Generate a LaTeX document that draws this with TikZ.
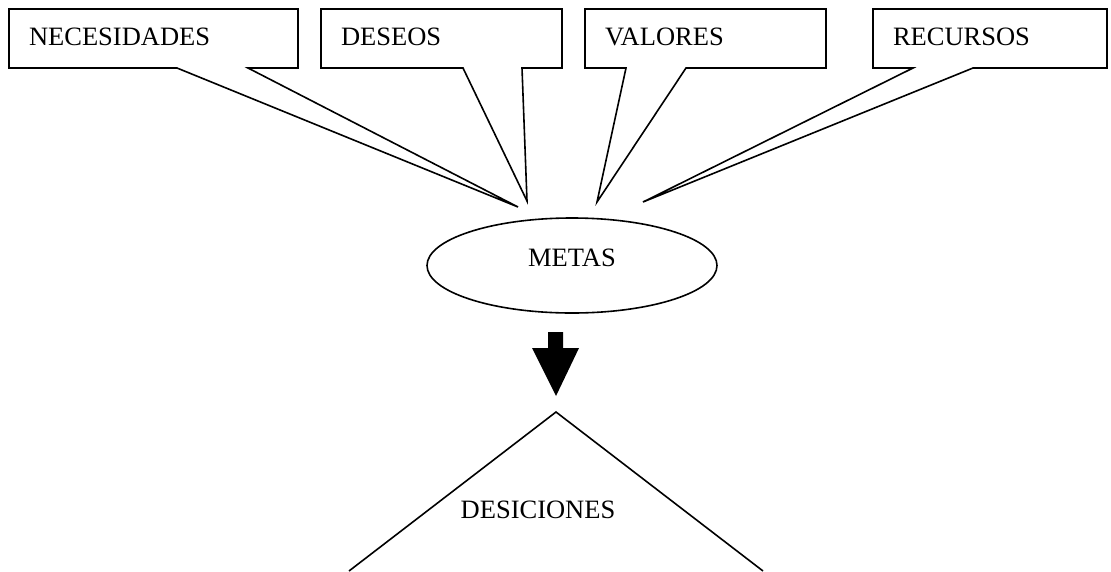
\documentclass[tikz,border=0pt]{standalone}
\usepackage{fontspec}
\setmainfont{Liberation Serif}
\usepackage{tikz}
\usetikzlibrary{calc,shapes.geometric}
\newcommand{\linecolor}{black}
\newcommand{\edgewidth}{1.6pt}
\newcommand{\boxh}{59pt}
\newcommand{\padx}{20pt}

\begin{document}
\begin{tikzpicture}[x=1pt,y=-1pt,line width=\edgewidth,font=\fontsize{26.5}{31}\selectfont,
  cbox/.style={rectangle,anchor=north west,inner xsep=\padx,inner ysep=0pt,outer sep=0pt,
    minimum height=\boxh,align=left,text depth=4pt}]
\useasboundingbox (0,0) rectangle (1111,571);
\node[cbox,text width=249pt] (1) at (9,9) {NECESIDADES};
\node[cbox,text width=201pt] (2) at (321,9) {DESEOS};
\node[cbox,text width=201pt] (3) at (585,9) {VALORES};
\node[cbox,text width=194pt] (4) at (873,9) {RECURSOS};
\coordinate (t1) at (518,207);
\coordinate (t2) at (527,201);
\coordinate (t3) at (597,202);
\coordinate (t4) at (643,202);
%callouts
\draw[\linecolor] (1.north west) -- (1.north east) -- (1.south east) -- ($(1.south west)+(239,0)$) -- (t1) -- ($(1.south west)+(168,0)$) -- (1.south west) -- cycle;
\draw[\linecolor] (2.north west) -- (2.north east) -- (2.south east) -- ($(2.south west)+(201,0)$) -- (t2) -- ($(2.south west)+(142,0)$) -- (2.south west) -- cycle;
\draw[\linecolor] (3.north west) -- (3.north east) -- (3.south east) -- ($(3.south west)+(101,0)$) -- (t3) -- ($(3.south west)+(41,0)$) -- (3.south west) -- cycle;
\draw[\linecolor] (4.north west) -- (4.north east) -- (4.south east) -- ($(4.south west)+(100,0)$) -- (t4) -- ($(4.south west)+(40,0)$) -- (4.south west) -- cycle;
%metas
\node[ellipse,draw=\linecolor,minimum width=290pt,minimum height=95pt,inner sep=0pt,text depth=16pt] (5) at (572,265.5) {METAS};
%arrow
\fill[\linecolor] (548,332) -- (563,332) -- (563,348) -- (579,348) -- (556,396) -- (532,348) -- (548,348) -- cycle;
%desiciones
\coordinate (7) at (556,412);
\coordinate (7l) at (349,571);
\coordinate (7r) at (763,571);
\draw[\linecolor] (7l) -- (7) -- (7r);
\node (6) at (538,509.5) {DESICIONES};
\end{tikzpicture}
\end{document}
